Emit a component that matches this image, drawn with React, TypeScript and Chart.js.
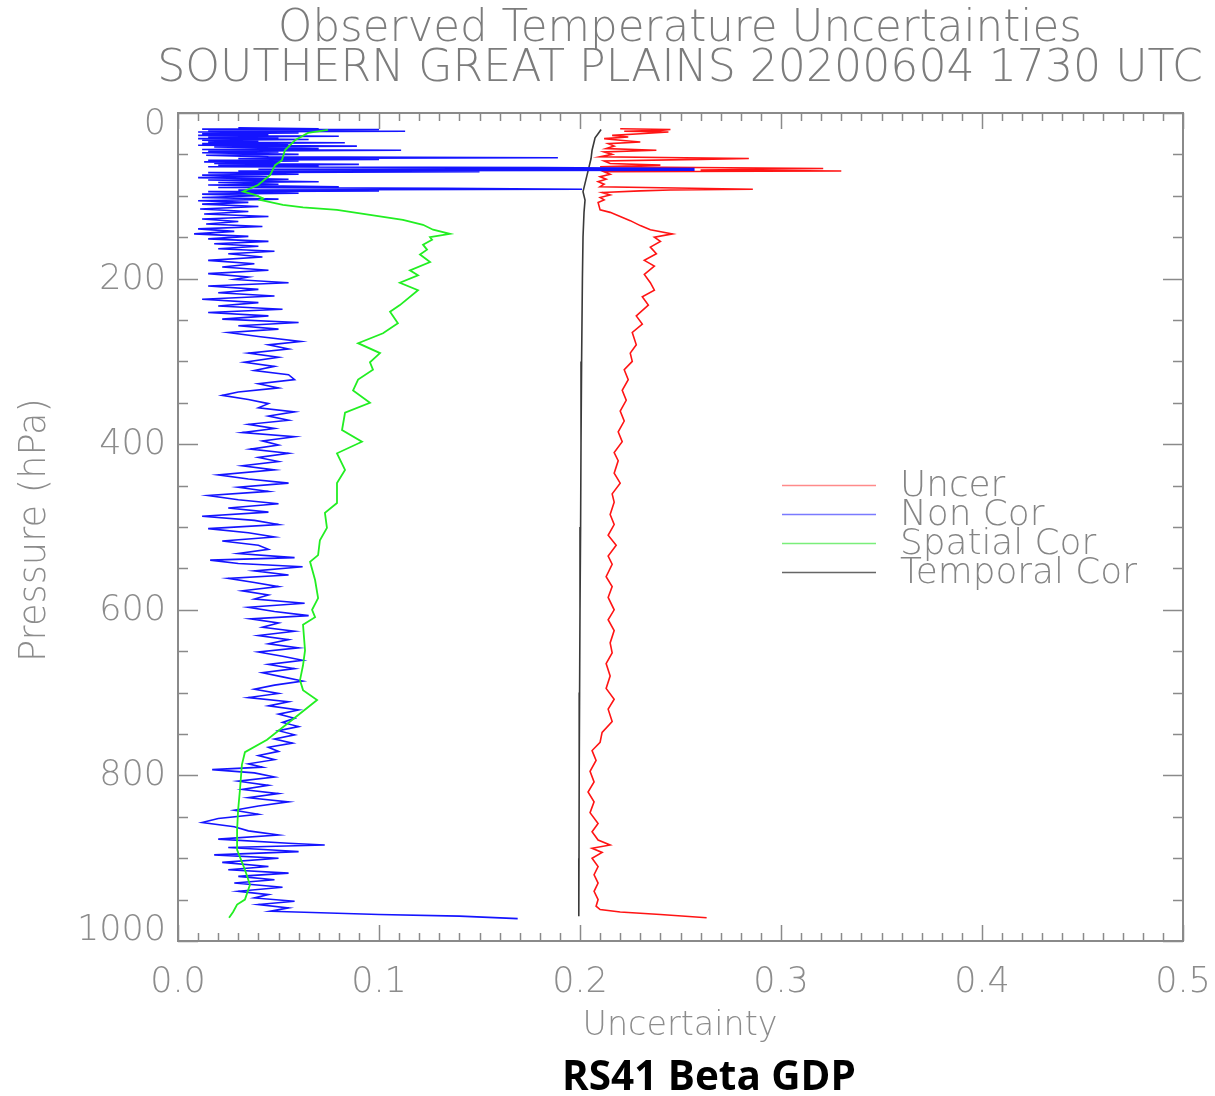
import React, { useEffect, useRef } from "react";
import { Chart, registerables } from "chart.js";

Chart.register(...registerables);

// ---- Data (pressure in hPa, uncertainty) ----
const uncerP = [19, 20, 21, 22, 23, 25, 27, 29, 31, 33, 35, 37, 40, 43, 45, 47, 50, 53, 55, 56, 58, 61, 63, 65, 67, 68, 69, 70, 71, 74, 77, 80, 83, 86, 89, 92, 93, 94, 96, 99, 102, 105, 108, 117, 120, 125, 130, 136, 141, 146, 150, 155, 162, 170, 178, 185, 195, 205, 214, 222, 232, 245, 255, 265, 280, 290, 300, 310, 322, 335, 347, 360, 372, 385, 397, 410, 420, 435, 447, 460, 470, 485, 497, 510, 522, 535, 545, 560, 572, 585, 600, 612, 625, 640, 652, 665, 680, 695, 708, 720, 735, 748, 760, 770, 782, 795, 808, 820, 832, 845, 858, 868, 878, 884, 888, 893, 900, 910, 920, 930, 940, 950, 958, 962, 965, 968, 972];
const uncerV = [0.220, 0.245, 0.240, 0.222, 0.244, 0.230, 0.216, 0.224, 0.212, 0.220, 0.230, 0.214, 0.217, 0.213, 0.238, 0.212, 0.216, 0.210, 0.284, 0.260, 0.212, 0.215, 0.240, 0.210, 0.321, 0.290, 0.260, 0.330, 0.212, 0.215, 0.210, 0.213, 0.209, 0.212, 0.210, 0.286, 0.245, 0.230, 0.211, 0.215, 0.210, 0.212, 0.209, 0.210, 0.215, 0.220, 0.225, 0.230, 0.235, 0.246, 0.237, 0.240, 0.235, 0.238, 0.232, 0.237, 0.232, 0.235, 0.237, 0.231, 0.234, 0.228, 0.231, 0.226, 0.228, 0.225, 0.226, 0.222, 0.224, 0.221, 0.223, 0.220, 0.222, 0.219, 0.221, 0.217, 0.219, 0.217, 0.220, 0.216, 0.217, 0.215, 0.217, 0.214, 0.218, 0.214, 0.216, 0.213, 0.216, 0.214, 0.217, 0.214, 0.217, 0.215, 0.216, 0.213, 0.215, 0.213, 0.217, 0.214, 0.216, 0.211, 0.210, 0.206, 0.208, 0.205, 0.207, 0.204, 0.207, 0.205, 0.209, 0.206, 0.209, 0.215, 0.206, 0.211, 0.206, 0.209, 0.207, 0.209, 0.207, 0.209, 0.208, 0.210, 0.220, 0.240, 0.263];

const nonCorP = [18, 19, 19.5, 20, 21, 22, 23, 24, 25, 26, 27, 28, 29, 30, 31, 32, 33, 34, 35, 36, 37, 38, 39, 40, 41, 43, 44, 45, 46, 47, 48, 50, 51, 53, 54, 55, 56, 57, 58, 59, 60, 61, 62, 63, 64, 65, 66, 67, 68, 69, 70, 71, 72, 74, 75, 77, 78, 80, 81, 83, 84, 86, 87, 89, 90, 91, 92, 93, 94, 95, 97, 98, 100, 102, 104, 106, 108, 110, 113, 116, 119, 122, 125, 128, 131, 134, 137, 140, 143, 146, 149, 152, 155, 158, 161, 164, 167, 170, 174, 178, 182, 186, 190, 194, 198, 201, 205, 209, 213, 217, 221, 225, 229, 233, 237, 241, 245, 249, 253, 257, 261, 265, 270, 276, 280, 285, 290, 295, 301, 306, 311, 316, 322, 327, 332, 337, 341, 346, 351, 356, 361, 366, 371, 376, 381, 386, 391, 396, 401, 406, 411, 416, 421, 426, 431, 437, 442, 447, 452, 457, 462, 467, 472, 477, 482, 487, 492, 497, 502, 507, 512, 517, 522, 527, 532, 537, 540, 544, 548, 553, 558, 562, 567, 572, 577, 582, 587, 592, 597, 602, 607, 611, 616, 621, 626, 631, 636, 641, 646, 651, 656, 661, 666, 671, 676, 681, 686, 691, 696, 701, 706, 711, 716, 721, 726, 731, 736, 741, 746, 751, 756, 761, 766, 771, 776, 781, 786, 790, 793, 797, 802, 807, 812, 817, 822, 827, 832, 837, 842, 847, 852, 857, 862, 867, 872, 877, 882, 884, 887, 892, 896, 900, 905, 910, 914, 918, 922, 926, 930, 935, 940, 944, 948, 952, 956, 960, 964, 968, 970, 973];
const nonCorV = [0.030, 0.070, 0.012, 0.100, 0.015, 0.113, 0.010, 0.060, 0.012, 0.045, 0.010, 0.080, 0.015, 0.050, 0.010, 0.065, 0.012, 0.040, 0.015, 0.083, 0.012, 0.055, 0.010, 0.089, 0.018, 0.070, 0.012, 0.111, 0.015, 0.050, 0.012, 0.060, 0.014, 0.045, 0.189, 0.030, 0.100, 0.015, 0.060, 0.013, 0.050, 0.018, 0.090, 0.020, 0.070, 0.015, 0.180, 0.257, 0.040, 0.257, 0.030, 0.150, 0.015, 0.060, 0.012, 0.045, 0.010, 0.055, 0.015, 0.070, 0.020, 0.050, 0.015, 0.080, 0.020, 0.132, 0.201, 0.030, 0.100, 0.015, 0.060, 0.012, 0.040, 0.012, 0.050, 0.010, 0.035, 0.012, 0.040, 0.011, 0.035, 0.013, 0.045, 0.012, 0.030, 0.014, 0.042, 0.010, 0.028, 0.008, 0.035, 0.015, 0.045, 0.018, 0.040, 0.020, 0.048, 0.025, 0.042, 0.015, 0.038, 0.022, 0.045, 0.015, 0.035, 0.028, 0.055, 0.015, 0.040, 0.020, 0.048, 0.012, 0.040, 0.020, 0.052, 0.015, 0.045, 0.022, 0.060, 0.030, 0.050, 0.025, 0.040, 0.061, 0.045, 0.055, 0.035, 0.050, 0.033, 0.048, 0.038, 0.055, 0.058, 0.040, 0.050, 0.030, 0.022, 0.035, 0.045, 0.040, 0.058, 0.045, 0.055, 0.035, 0.048, 0.032, 0.058, 0.042, 0.050, 0.036, 0.055, 0.040, 0.050, 0.032, 0.048, 0.020, 0.035, 0.055, 0.030, 0.045, 0.015, 0.030, 0.050, 0.025, 0.045, 0.012, 0.038, 0.050, 0.015, 0.035, 0.048, 0.022, 0.040, 0.045, 0.030, 0.058, 0.016, 0.030, 0.062, 0.038, 0.055, 0.025, 0.038, 0.050, 0.032, 0.045, 0.038, 0.063, 0.035, 0.048, 0.065, 0.036, 0.050, 0.042, 0.058, 0.040, 0.055, 0.045, 0.060, 0.040, 0.052, 0.062, 0.045, 0.058, 0.042, 0.052, 0.062, 0.048, 0.038, 0.050, 0.035, 0.055, 0.045, 0.060, 0.050, 0.058, 0.052, 0.060, 0.050, 0.058, 0.048, 0.057, 0.045, 0.050, 0.040, 0.048, 0.035, 0.042, 0.017, 0.038, 0.048, 0.030, 0.045, 0.032, 0.050, 0.035, 0.055, 0.040, 0.028, 0.040, 0.020, 0.012, 0.028, 0.035, 0.050, 0.020, 0.055, 0.073, 0.025, 0.060, 0.018, 0.050, 0.022, 0.045, 0.025, 0.055, 0.030, 0.048, 0.028, 0.052, 0.030, 0.045, 0.038, 0.058, 0.040, 0.055, 0.046, 0.100, 0.140, 0.169];

const spatialP = [20.5, 24, 33, 45, 57, 63, 75, 87, 95, 99, 103, 105, 111, 114, 117, 123, 129, 135, 141, 146, 150, 153, 159, 165, 171, 180, 190, 196, 205, 214, 232, 240, 254, 266, 278, 290, 301, 310, 322, 335, 350, 362, 383, 397, 411, 431, 447, 471, 483, 501, 516, 534, 542, 564, 586, 600, 609, 618, 649, 667, 685, 697, 709, 733, 757, 772, 787, 818, 842, 866, 890, 914, 932, 950, 956, 965, 972];
const spatialV = [0.0746, 0.0647, 0.0582, 0.0532, 0.0517, 0.0483, 0.0458, 0.0398, 0.0323, 0.0383, 0.0423, 0.0408, 0.0522, 0.0622, 0.0791, 0.0955, 0.1119, 0.1219, 0.1269, 0.1353, 0.1254, 0.1264, 0.1219, 0.1239, 0.1204, 0.1254, 0.1154, 0.1194, 0.1104, 0.1194, 0.1104, 0.1055, 0.1094, 0.1020, 0.0896, 0.1005, 0.0955, 0.0970, 0.0896, 0.0871, 0.0955, 0.0831, 0.0816, 0.0915, 0.0791, 0.0831, 0.0791, 0.0791, 0.0731, 0.0741, 0.0706, 0.0697, 0.0657, 0.0682, 0.0697, 0.0667, 0.0682, 0.0622, 0.0632, 0.0622, 0.0607, 0.0622, 0.0692, 0.0567, 0.0443, 0.0333, 0.0318, 0.0308, 0.0299, 0.0294, 0.0294, 0.0333, 0.0358, 0.0333, 0.0294, 0.0274, 0.0254];

const temporalP = [20, 25, 30, 35, 45, 55, 65, 75, 85, 95, 105, 120, 150, 200, 300, 400, 500, 600, 700, 800, 900, 970];
const temporalV = [0.2105, 0.209, 0.2075, 0.207, 0.206, 0.2055, 0.2045, 0.2035, 0.2025, 0.2015, 0.2025, 0.202, 0.2015, 0.2012, 0.2008, 0.2005, 0.2003, 0.2, 0.1998, 0.1996, 0.1995, 0.1994];

const seriesNames = ["Uncer", "Non Cor", "Spatial Cor", "Temporal Cor"];
const xTickValues = [0, 0.1, 0.2, 0.3, 0.4, 0.5];
const xTickLabels = ["0.0", "0.1", "0.2", "0.3", "0.4", "0.5"];
const yTickValues = [0, 200, 400, 600, 800, 1000];
const yTickLabels = ["0", "200", "400", "600", "800", "1000"];
const titleLines = ["Observed Temperature Uncertainties", "SOUTHERN GREAT PLAINS 20200604 1730 UTC"];
const xTitle = "Uncertainty";
const yTitle = "Pressure (hPa)";
const caption = "RS41 Beta GDP";

const toPts = (p: number[], v: number[]) => p.map((pp, i) => ({ x: v[i], y: pp }));

const THIN = '"DejaVu Sans ExtraLight", "DejaVu Sans", sans-serif';
const TEXT_GRAY = "#8c8c8c";
const AXIS_GRAY = "#8a8a8a";

function fitSize(ctx: CanvasRenderingContext2D, text: string, w: number, weight: string, family: string) {
  ctx.font = `${weight} 100px ${family}`;
  const m = ctx.measureText(text).width;
  return (100 * w) / m;
}

const decorPlugin = {
  id: "decor",
  afterDraw(chart: any) {
    const ctx: CanvasRenderingContext2D = chart.ctx;
    const { left, right, top, bottom } = chart.chartArea;
    const xs = chart.scales.x;
    const ys = chart.scales.y;
    ctx.save();
    // box
    ctx.strokeStyle = AXIS_GRAY;
    ctx.lineWidth = 2;
    ctx.strokeRect(left, top, right - left, bottom - top);
    ctx.lineWidth = 1.5;
    ctx.beginPath();
    // x ticks (minor 0.01, major 0.1)
    for (let i = 0; i <= 50; i++) {
      const v = i / 100;
      const px = Math.round(xs.getPixelForValue(v)) + 0.5;
      const len = i % 10 === 0 ? 16 : 8;
      ctx.moveTo(px, bottom);
      ctx.lineTo(px, bottom - len);
      ctx.moveTo(px, top);
      ctx.lineTo(px, top + len);
    }
    // y ticks (minor 50, major 200)
    for (let p = 0; p <= 1000; p += 50) {
      const py = Math.round(ys.getPixelForValue(p)) + 0.5;
      const len = p % 200 === 0 ? 20 : 10;
      ctx.moveTo(left, py);
      ctx.lineTo(left + len, py);
      ctx.moveTo(right, py);
      ctx.lineTo(right - len, py);
    }
    ctx.stroke();

    // tick labels
    ctx.fillStyle = TEXT_GRAY;
    ctx.font = `200 35px ${THIN}`;
    ctx.textAlign = "center";
    ctx.textBaseline = "middle";
    xTickValues.forEach((v, i) => {
      ctx.fillText(xTickLabels[i], xs.getPixelForValue(v), 983);
    });
    ctx.textAlign = "right";
    yTickValues.forEach((v, i) => {
      let py = ys.getPixelForValue(v) + 1;
      if (i === 0) py += 11;
      if (i === yTickValues.length - 1) py -= 11;
      ctx.fillText(yTickLabels[i], 166, py);
    });

    // titles
    ctx.textAlign = "center";
    ctx.fillStyle = "#7c7c7c";
    let s = fitSize(ctx, titleLines[0], 804, "200", THIN);
    ctx.font = `200 ${s}px ${THIN}`;
    ctx.fillText(titleLines[0], 680, 30);
    s = fitSize(ctx, titleLines[1], 1046, "200", THIN);
    ctx.font = `200 ${s}px ${THIN}`;
    ctx.fillText(titleLines[1], 680, 70);

    // x title
    ctx.fillStyle = TEXT_GRAY;
    s = fitSize(ctx, xTitle, 195, "200", THIN);
    ctx.font = `200 ${s}px ${THIN}`;
    ctx.fillText(xTitle, 680, 1026);

    // y title
    s = fitSize(ctx, yTitle, 264, "200", THIN);
    ctx.save();
    ctx.translate(35, 530);
    ctx.rotate(-Math.PI / 2);
    ctx.font = `200 ${s}px ${THIN}`;
    ctx.fillText(yTitle, 0, 0);
    ctx.restore();

    // legend
    const legendColors = ["#ff8a8a", "#7a7aff", "#7aee7a", "#666666"];
    const legendY = [485, 514, 543, 572];
    s = fitSize(ctx, seriesNames[3], 237, "200", THIN);
    ctx.textAlign = "left";
    seriesNames.forEach((name, i) => {
      ctx.strokeStyle = legendColors[i];
      ctx.lineWidth = 1.5;
      ctx.beginPath();
      ctx.moveTo(782, legendY[i] + 0.5);
      ctx.lineTo(876, legendY[i] + 0.5);
      ctx.stroke();
      ctx.fillStyle = "#858585";
      ctx.font = `200 ${s}px ${THIN}`;
      ctx.fillText(name, 900, legendY[i] + 2);
    });

    // caption
    ctx.fillStyle = "#000";
    ctx.textAlign = "center";
    const capFam = '"Liberation Sans Narrow", "Open Sans", "Liberation Sans", sans-serif';
    s = fitSize(ctx, caption, 294, "bold", capFam);
    ctx.font = `bold ${s}px ${capFam}`;
    ctx.fillText(caption, 709, 1078);
    ctx.restore();
  },
};

export default function App() {
  const ref = useRef<HTMLCanvasElement | null>(null);
  useEffect(() => {
    if (!ref.current) return;
    const line = (label: string, data: any[], color: string, w: number) => ({
      label,
      data,
      borderColor: color,
      backgroundColor: color,
      borderWidth: w,
      showLine: true,
      pointRadius: 0,
      pointHoverRadius: 0,
      tension: 0,
      fill: false,
    });
    const chart = new Chart(ref.current, {
      type: "scatter",
      data: {
        datasets: [
          line(seriesNames[2], toPts(spatialP, spatialV), "#22ee22", 1.8),
          line(seriesNames[1], toPts(nonCorP, nonCorV), "#1414ff", 1.6),
          line(seriesNames[3], toPts(temporalP, temporalV), "#3a3a3a", 1.6),
          line(seriesNames[0], toPts(uncerP, uncerV), "#ff1414", 1.6),
        ],
      },
      options: {
        responsive: false,
        animation: false,
        events: [],
        layout: { padding: { top: 113, right: 32, left: 0, bottom: 0 } },
        plugins: { legend: { display: false }, tooltip: { enabled: false }, title: { display: false } },
        scales: {
          x: {
            type: "linear",
            min: 0,
            max: 0.5,
            grid: { display: false },
            border: { display: false },
            ticks: { display: false },
            afterFit: (sc: any) => {
              sc.height = 155;
            },
          },
          y: {
            type: "linear",
            reverse: true,
            min: 0,
            max: 1000,
            grid: { display: false },
            border: { display: false },
            ticks: { display: false },
            afterFit: (sc: any) => {
              sc.width = 178;
            },
          },
        },
      },
      plugins: [decorPlugin],
    } as any);
    return () => chart.destroy();
  }, []);
  return (
    <div style={{ position: "absolute", left: 0, top: 0, width: 1215, height: 1096, background: "#fff" }}>
      <canvas ref={ref} width={1215} height={1096} style={{ display: "block" }} />
    </div>
  );
}
